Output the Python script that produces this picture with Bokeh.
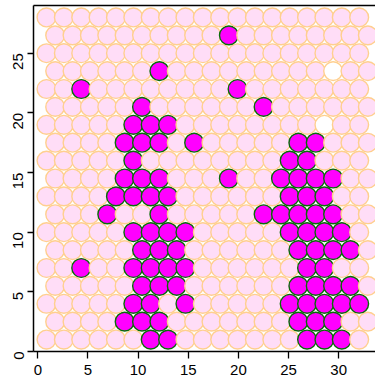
import math
from bokeh.plotting import figure
from bokeh.models import Range1d, LinearAxis, FixedTicker, ColumnDataSource
from bokeh.embed import file_html
from bokeh.resources import INLINE

# Hexagonal map: 19 columns x 19 rows, rows listed from top (row 18) to bottom (row 0)
# '.' = regular unit, 'M' = highlighted unit, 'W' = empty unit
n_cols = 19
n_rows = 19
map_rows = [
    "...................",  # row 18
    "..........M........",  # row 17
    "...................",  # row 16
    "......M.........W..",  # row 15
    "..M........M.......",  # row 14
    ".....M......M......",  # row 13
    ".....MMM........W..",  # row 12
    "....MMM.M.....MM...",  # row 11
    ".....M........MM...",  # row 10
    "....MMM...M..MMMM..",  # row 9
    "....MMMM......MMM..",  # row 8
    "...M..M.....MMMMM..",  # row 7
    ".....MMMM.....MMMM.",  # row 6
    ".....MMM......MMMM.",  # row 5
    "..M..MMMM......MM..",  # row 4
    ".....MMM......MMMM.",  # row 3
    ".....MM.M.....MMMMM",  # row 2
    "....MMM.......MMM..",  # row 1
    "......MM.......MMM.",  # row 0
]
x_ticks = [0, 5, 10, 15, 20, 25, 30]
y_ticks = [0, 5, 10, 15, 20, 25]

fill_of = {".": "#FFDDF7", "M": "#FF00FF", "W": "#FFFFFF"}
line_of = {".": "#FFCF8F", "M": "#0A6A0A", "W": "#FFCF8F"}

s3 = math.sqrt(3)
xs, ys, fills, lines = [], [], [], []
for r in range(n_rows):
    row = map_rows[n_rows - 1 - r]
    for c in range(n_cols):
        xs.append(s3 * (c + 0.5 + 0.5 * (r % 2)))
        ys.append(1 + 1.5 * r)
        fills.append(fill_of[row[c]])
        lines.append(line_of[row[c]])

src = ColumnDataSource(dict(x=xs, y=ys, fill=fills, line=lines))

p = figure(width=375, height=381, x_range=Range1d(-0.43, 33.67), y_range=Range1d(0, 29),
           output_backend="svg", toolbar_location=None,
           min_border_left=33, min_border_right=0, min_border_top=5, min_border_bottom=30)
p.outline_line_color = None
p.xgrid.visible = False
p.ygrid.visible = False
p.background_fill_color = "white"
p.border_fill_color = "white"

p.scatter("x", "y", source=src, marker="circle", size=18.8, fill_color="fill",
          line_color="line", line_width=1.4)

FONT = "Liberation Sans"
for ax in (p.xaxis[0], p.yaxis[0]):
    ax.axis_line_width = 1.5
    ax.axis_line_color = "black"
    ax.major_tick_line_color = "black"
    ax.major_tick_line_width = 1.3
    ax.major_tick_in = 0
    ax.minor_tick_line_color = None
    ax.major_label_text_font = FONT
    ax.major_label_text_font_size = "15px"
    ax.major_label_text_color = "black"

p.xaxis[0].ticker = FixedTicker(ticks=x_ticks)
p.xaxis[0].major_tick_out = 7
p.xaxis[0].major_label_standoff = 6
p.yaxis[0].ticker = FixedTicker(ticks=y_ticks)
p.yaxis[0].major_tick_out = 6
p.yaxis[0].major_label_standoff = 9
p.yaxis[0].major_label_orientation = math.pi / 2

top = LinearAxis(ticker=FixedTicker(ticks=[]), major_tick_out=0, major_tick_in=0,
                 minor_tick_line_color=None, major_label_text_font_size="0px",
                 major_label_standoff=0, axis_line_width=1.5, axis_line_color="black")
p.add_layout(top, "above")

open("out.html", "w").write(file_html(p, INLINE))
